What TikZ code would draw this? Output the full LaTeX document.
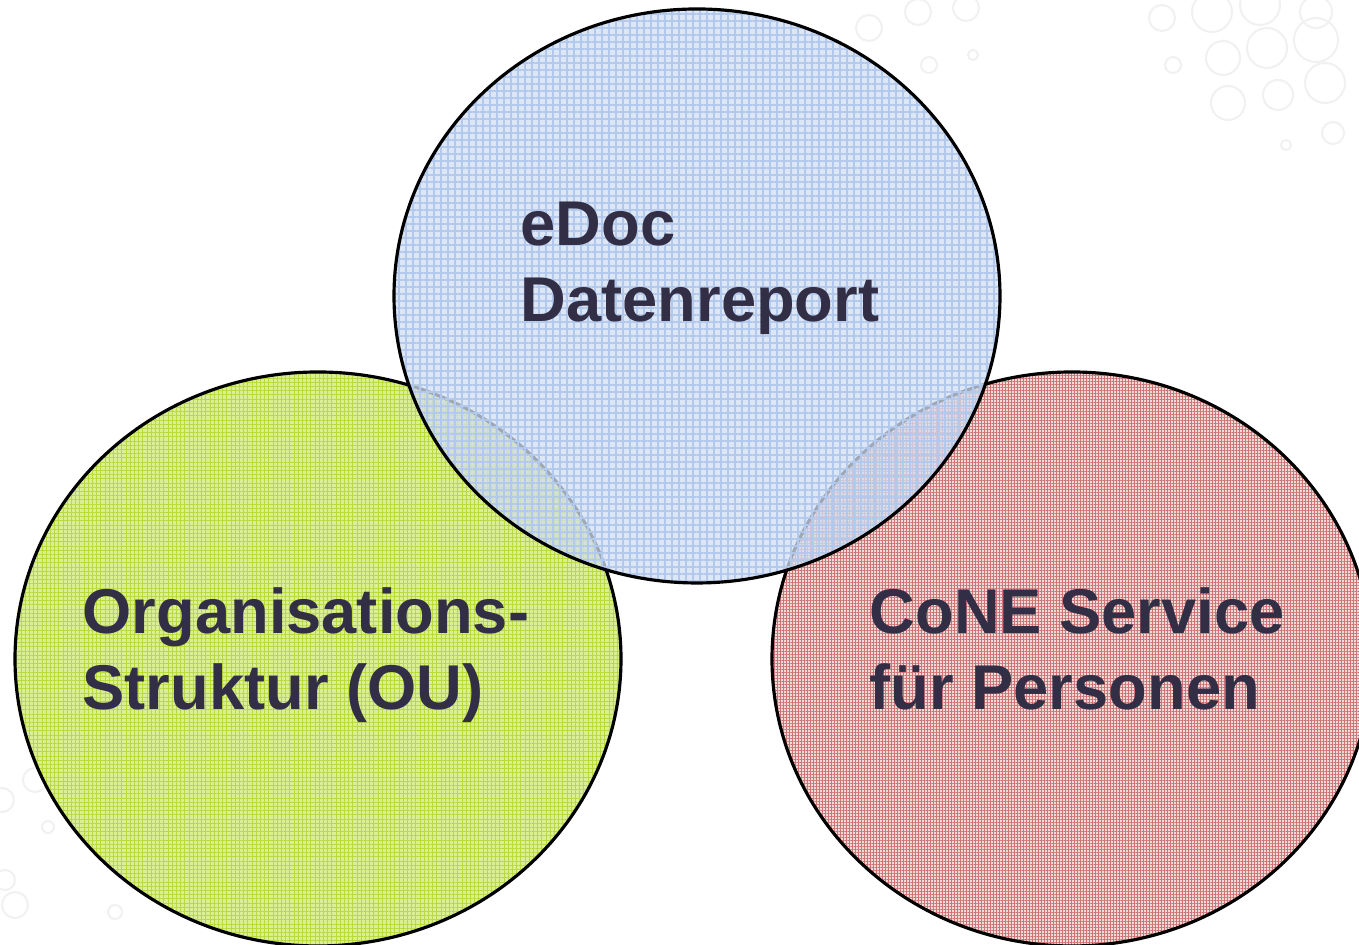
\documentclass[tikz,border=0pt]{standalone}
\usepackage{fontspec}
\setmainfont{Liberation Sans}
\usetikzlibrary{patterns.meta,calc}
\definecolor{TextClr}{RGB}{50,46,70}
\definecolor{DocClr}{RGB}{210,222,240}
\definecolor{DocGridClr}{RGB}{178,200,236}
\definecolor{OUClr}{RGB}{218,238,150}
\definecolor{OUGridClr}{RGB}{185,218,60}
\definecolor{ConeClr}{RGB}{240,218,218}
\definecolor{ConeGridClr}{RGB}{205,115,115}
\definecolor{BubbleClr}{RGB}{241,241,241}

\begin{document}
\begin{tikzpicture}
\useasboundingbox (0,0) rectangle (13.59,9.45);
\clip (0,0) rectangle (13.59,9.45);
\tikzset{label text/.style={anchor=base west,align=left,inner sep=0pt,text=TextClr,
  font=\fontsize{18}{21.8}\selectfont\bfseries}}

% faint bubbles in the background
\foreach \x/\y/\r in {11.62/9.27/.13,12.12/9.33/.20,12.60/9.40/.20,13.16/9.33/.16,
  12.23/8.87/.17,12.67/8.97/.20,13.16/9.05/.22,11.73/8.80/.08,12.28/8.42/.17,
  12.78/8.50/.15,13.25/8.62/.20,13.33/8.12/.11,12.86/8.00/.05,
  8.69/9.17/.13,9.18/9.33/.13,9.66/9.37/.13,9.29/8.80/.08,9.73/8.90/.05,
  0.35/1.65/.12,0.02/1.45/.12,0.48/1.18/.06,0.05/0.65/.10,0.15/0.40/.13,1.15/0.33/.07}
  \draw[BubbleClr,line width=0.6pt] (\x,\y) circle (\r);

\coordinate (OU) at (3.18,2.86);
\coordinate (Cone) at (10.72,2.86);
\coordinate (Doc) at (6.97,6.49);

% lower circles
\fill[OUClr] (OU) ellipse [x radius=3.03,y radius=2.87];
\fill[pattern={Hatch[angle=0,distance=0.42mm,line width=0.25pt]},pattern color=OUGridClr]
  (OU) ellipse [x radius=3.03,y radius=2.87];
\draw[line width=0.9pt] (OU) ellipse [x radius=3.03,y radius=2.87];

\fill[ConeClr] (Cone) ellipse [x radius=3.00,y radius=2.87];
\fill[pattern={Hatch[angle=0,distance=0.3mm,line width=0.15pt]},pattern color=ConeGridClr]
  (Cone) ellipse [x radius=3.00,y radius=2.87];
\draw[line width=0.9pt] (Cone) ellipse [x radius=3.00,y radius=2.87];

% upper circle lies over both
\fill[DocClr,fill opacity=0.76] (Doc) ellipse [x radius=3.03,y radius=2.87];
\fill[pattern={Hatch[angle=0,distance=0.7mm,line width=0.3pt]},pattern color=DocGridClr,fill opacity=0.8]
  (Doc) ellipse [x radius=3.03,y radius=2.87];
\draw[line width=0.9pt] (Doc) ellipse [x radius=3.03,y radius=2.87];

\node[label text] (doclabel) at ($(Doc)+(-1.77,-0.26)$) {eDoc\\Datenreport};
\node[label text] (oulabel) at ($(OU)+(-2.36,-0.51)$) {Organisations-\\Struktur (OU)};
\node[label text] (conelabel) at ($(Cone)+(-2.03,-0.51)$) {CoNE Service\\für Personen};

\end{tikzpicture}
\end{document}
